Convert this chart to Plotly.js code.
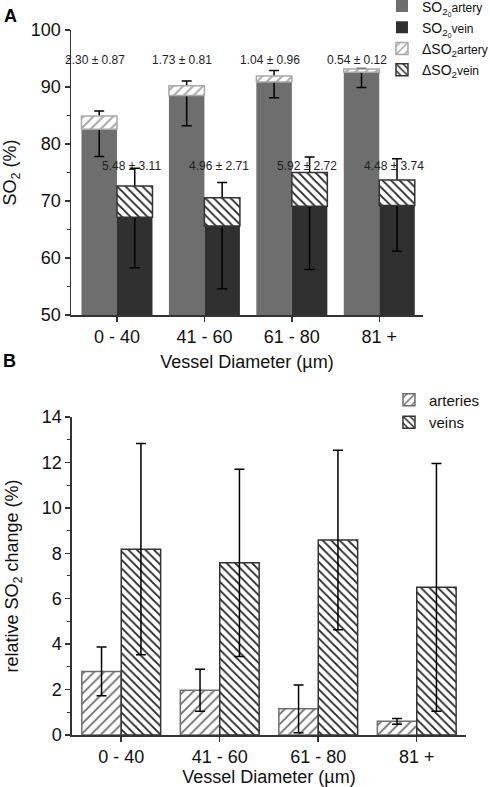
<!DOCTYPE html>
<html>
<head>
<meta charset="utf-8">
<script src="https://cdn.plot.ly/plotly-3.0.1.min.js"></script>
<style>html,body{margin:0;padding:0;background:#fff;}#chart{width:490px;height:787px;}</style>
</head>
<body>
<div id="chart"></div>
<script>
// ---- data ----
const categories = ['0 - 40', '41 - 60', '61 - 80', '81 +'];
// Panel A: baseline SO2 (%) and its SD
const so2Artery = [82.6, 88.5, 90.9, 92.6];
const so2ArterySD = [4.8, 5.3, 2.8, 2.7];
const so2Vein = [67.15, 65.6, 69.1, 69.2];
const so2VeinSD = [8.85, 11.0, 11.1, 8.0];
// Panel A: SO2 increase (delta) and its SD
const dArtery = [2.30, 1.73, 1.04, 0.54];
const dArterySD = [0.87, 0.81, 0.96, 0.12];
const dVein = [5.48, 4.96, 5.92, 4.48];
const dVeinSD = [3.11, 2.71, 2.72, 3.74];
// Panel B: relative SO2 change (%)
const relArtery = [2.8, 1.97, 1.15, 0.6];
const relArterySD = [1.07, 0.92, 1.05, 0.13];
const relVein = [8.18, 7.58, 8.58, 6.5];
const relVeinSD = [4.65, 4.12, 3.95, 5.45];

const FONT = 'Liberation Sans, Arial, sans-serif';
const AX = '#333333';
const errStyle = {color: '#000', thickness: 1.5, width: 5};

const wA = 0.406, wB = 0.40;

const traces = [
  // Panel A
  {type: 'bar', x: categories, y: so2Artery, width: wA, offset: -wA,
   name: 'SO<sub>2<sub>0</sub></sub><span style="font-size:12px">artery</span>',
   marker: {color: '#6e6e6e', line: {width: 0}},
   error_y: Object.assign({type: 'data', symmetric: false,
     array: dArtery.map((d, i) => d + dArterySD[i]), arrayminus: so2ArterySD}, errStyle),
   xaxis: 'x', yaxis: 'y', legend: 'legend'},
  {type: 'bar', x: categories, y: so2Vein, width: wA, offset: 0,
   name: 'SO<sub>2<sub>0</sub></sub><span style="font-size:12px">vein</span>',
   marker: {color: '#303030', line: {width: 0}},
   error_y: Object.assign({type: 'data', symmetric: false,
     array: dVein.map((d, i) => d + dVeinSD[i]), arrayminus: so2VeinSD}, errStyle),
   xaxis: 'x', yaxis: 'y', legend: 'legend'},
  {type: 'bar', x: categories, y: dArtery, base: so2Artery, width: wA, offset: -wA,
   name: 'ΔSO<sub>2</sub><span style="font-size:12px">artery</span>',
   marker: {color: '#ffffff', line: {color: '#a8a8a8', width: 1.5},
     pattern: {shape: '/', fgcolor: '#a8a8a8', bgcolor: '#ffffff', size: 7, solidity: 0.28, fillmode: 'replace'}},
   xaxis: 'x', yaxis: 'y', legend: 'legend'},
  {type: 'bar', x: categories, y: dVein, base: so2Vein, width: wA, offset: 0,
   name: 'ΔSO<sub>2</sub><span style="font-size:12px">vein</span>',
   marker: {color: '#ffffff', line: {color: '#333333', width: 1.5},
     pattern: {shape: '\\', fgcolor: '#222222', bgcolor: '#ffffff', size: 6, solidity: 0.3, fillmode: 'replace'}},
   xaxis: 'x', yaxis: 'y', legend: 'legend'},
  // Panel B
  {type: 'bar', x: categories, y: relArtery, width: wB, offset: -wB, name: 'arteries',
   marker: {color: '#ffffff', line: {color: '#6e6e6e', width: 1.5},
     pattern: {shape: '/', fgcolor: '#6e6e6e', bgcolor: '#ffffff', size: 7, solidity: 0.25, fillmode: 'replace'}},
   error_y: Object.assign({type: 'data', array: relArterySD}, errStyle),
   xaxis: 'x2', yaxis: 'y2', legend: 'legend2'},
  {type: 'bar', x: categories, y: relVein, width: wB, offset: 0, name: 'veins',
   marker: {color: '#ffffff', line: {color: '#333333', width: 1.5},
     pattern: {shape: '\\', fgcolor: '#222222', bgcolor: '#ffffff', size: 6, solidity: 0.3, fillmode: 'replace'}},
   error_y: Object.assign({type: 'data', array: relVeinSD}, errStyle),
   xaxis: 'x2', yaxis: 'y2', legend: 'legend2'}
];

const annotations = [];
categories.forEach((c, i) => {
  annotations.push({xref: 'x', yref: 'y', x: c, y: 94.75, xshift: -22, showarrow: false,
    text: dArtery[i].toFixed(2) + ' ± ' + dArterySD[i].toFixed(2), font: {size: 12, color: '#222', family: FONT}});
  annotations.push({xref: 'x', yref: 'y', x: c, y: 76.2, xshift: 15, showarrow: false,
    text: dVein[i].toFixed(2) + ' ± ' + dVeinSD[i].toFixed(2), font: {size: 12, color: '#222', family: FONT}});
});
annotations.push({xref: 'paper', yref: 'paper', x: -0.175, y: 1.037, xanchor: 'left', yanchor: 'top',
  showarrow: false, text: '<b>A</b>', font: {size: 18, color: '#000', family: FONT}});
annotations.push({xref: 'paper', yref: 'paper', x: -0.178, y: 0.5475, xanchor: 'left', yanchor: 'top',
  showarrow: false, text: '<b>B</b>', font: {size: 18, color: '#000', family: FONT}});

const axisCommon = {
  showline: true, linecolor: AX, linewidth: 1.5, ticks: 'outside', ticklen: 5, tickwidth: 1.5,
  tickcolor: AX, showgrid: false, zeroline: false, tickfont: {size: 18, color: '#111', family: FONT}
};

const layout = {
  width: 490, height: 787,
  margin: {l: 71, r: 24, t: 30, b: 52, autoexpand: false},
  paper_bgcolor: '#ffffff', plot_bgcolor: '#ffffff',
  font: {family: FONT, color: '#111'},
  barmode: 'overlay',
  showlegend: true,
  xaxis: Object.assign({}, axisCommon, {domain: [0, 0.8911], anchor: 'y', type: 'category',
    range: [-0.526, 3.5], title: {text: 'Vessel Diameter (µm)', font: {size: 18, family: FONT, color: '#111'}, standoff: 9}}),
  yaxis: Object.assign({}, axisCommon, {domain: [0.5957, 1], anchor: 'x', range: [50, 100], dtick: 10,
    minor: {dtick: 5, ticks: 'outside', ticklen: 3, tickwidth: 1, tickcolor: AX},
    title: {text: 'SO<sub>2</sub> (%)', font: {size: 18, family: FONT, color: '#111'}, standoff: 15}}),
  xaxis2: Object.assign({}, axisCommon, {domain: [0.0025, 1], anchor: 'y2', type: 'category',
    range: [-0.5, 3.5], title: {text: 'Vessel Diameter (µm)', font: {size: 18, family: FONT, color: '#111'}, standoff: 8}}),
  yaxis2: Object.assign({}, axisCommon, {domain: [0, 0.4511], anchor: 'x2', range: [0, 14], dtick: 2,
    minor: {dtick: 1, ticks: 'outside', ticklen: 3, tickwidth: 1, tickcolor: AX},
    title: {text: 'relative SO<sub>2</sub> change (%)', font: {size: 18, family: FONT, color: '#111'}, standoff: 18}}),
  legend: {x: 0.7873, y: 1.056, xanchor: 'left', yanchor: 'top',
    bgcolor: 'rgba(0,0,0,0)', font: {size: 14, family: FONT, color: '#111'}, tracegroupgap: 0, traceorder: 'normal'},
  legend2: {x: 0.805, y: 0.4986, xanchor: 'left', yanchor: 'top',
    bgcolor: 'rgba(0,0,0,0)', font: {size: 15, family: FONT, color: '#111'}, tracegroupgap: 0, traceorder: 'normal'},
  annotations: annotations
};

Plotly.newPlot('chart', traces, layout, {displayModeBar: false, staticPlot: true});
</script>
</body>
</html>
